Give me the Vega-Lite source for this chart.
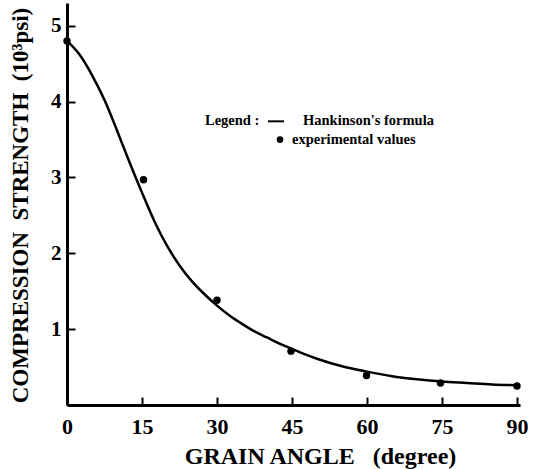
{
  "$schema": "https://vega.github.io/schema/vega-lite/v6.json",
  "width": 453,
  "height": 402,
  "autosize": {"type": "none"},
  "padding": {"left": 67, "top": 3, "right": 13, "bottom": 64},
  "background": "white",
  "config": {
    "view": {"stroke": null},
    "font": "Liberation Serif",
    "axis": {"grid": false}
  },
  "datasets": {
    "curve": [
      {"angle": 0, "strength": 4.80},
      {"angle": 2.5, "strength": 4.62},
      {"angle": 5, "strength": 4.35},
      {"angle": 7.5, "strength": 4.02},
      {"angle": 10, "strength": 3.62},
      {"angle": 12.5, "strength": 3.20},
      {"angle": 15, "strength": 2.80},
      {"angle": 17.5, "strength": 2.42},
      {"angle": 20, "strength": 2.10},
      {"angle": 22.5, "strength": 1.84},
      {"angle": 25, "strength": 1.63},
      {"angle": 27.5, "strength": 1.46},
      {"angle": 30, "strength": 1.31},
      {"angle": 32.5, "strength": 1.18},
      {"angle": 35, "strength": 1.07},
      {"angle": 37.5, "strength": 0.97},
      {"angle": 40, "strength": 0.89},
      {"angle": 42.5, "strength": 0.81},
      {"angle": 45, "strength": 0.74},
      {"angle": 47.5, "strength": 0.67},
      {"angle": 50, "strength": 0.61},
      {"angle": 55, "strength": 0.51},
      {"angle": 60, "strength": 0.44},
      {"angle": 65, "strength": 0.38},
      {"angle": 70, "strength": 0.34},
      {"angle": 75, "strength": 0.31},
      {"angle": 80, "strength": 0.29},
      {"angle": 85, "strength": 0.27},
      {"angle": 90, "strength": 0.26}
    ],
    "points": [
      {"angle": 0, "strength": 4.80},
      {"angle": 15.3, "strength": 2.97},
      {"angle": 30, "strength": 1.38},
      {"angle": 44.8, "strength": 0.71},
      {"angle": 59.9, "strength": 0.39},
      {"angle": 74.7, "strength": 0.29},
      {"angle": 90, "strength": 0.25}
    ],
    "legendText": [
      {"x": 27.6, "y": 3.74, "label": "Legend :"},
      {"x": 47.2, "y": 3.74, "label": "Hankinson's formula"},
      {"x": 45, "y": 3.5, "label": "experimental values"}
    ],
    "legendLine": [
      {"x": 40.2, "x2": 43.4, "y": 3.74}
    ],
    "legendDot": [
      {"x": 42.6, "y": 3.5}
    ]
  },
  "layer": [
    {
      "data": {"name": "curve"},
      "mark": {"type": "line", "color": "black", "strokeWidth": 2.5, "interpolate": "monotone", "clip": false},
      "encoding": {
        "x": {
          "field": "angle", "type": "quantitative",
          "scale": {"domain": [0, 90.6], "nice": false, "zero": false},
          "axis": {
            "values": [0, 15, 30, 45, 60, 75, 90],
            "format": "d",
            "title": "GRAIN ANGLE\u00a0\u00a0\u00a0(degree)",
            "titleFont": "Liberation Serif", "titleFontSize": 24, "titleFontWeight": "bold", "titleColor": "black",
            "titleX": 253, "titleY": 51, "titleAlign": "center", "titleBaseline": "middle", "titleAnchor": null,
            "labelFont": "Liberation Serif", "labelFontSize": 22, "labelFontWeight": "bold", "labelColor": "black", "labelFlush": false,
            "labelPadding": 19,
            "domainColor": "black", "domainWidth": 3,
            "tickColor": "black", "tickWidth": 2, "tickSize": -8
          }
        },
        "y": {
          "field": "strength", "type": "quantitative",
          "scale": {"domain": [0, 5.3], "nice": false},
          "axis": {
            "values": [1, 2, 3, 4, 5],
            "format": "d",
            "title": "COMPRESSION\u00a0\u00a0STRENGTH\u00a0\u00a0(10³psi)",
            "titleFont": "Liberation Serif", "titleFontSize": 23, "titleFontWeight": "bold", "titleColor": "black",
            "titleX": -47, "titleY": 202, "titleAlign": "center", "titleBaseline": "middle", "titleAngle": -90, "titleAnchor": null,
            "labelFont": "Liberation Serif", "labelFontSize": 21, "labelFontWeight": "bold", "labelColor": "black",
            "labelPadding": 14,
            "domainColor": "black", "domainWidth": 3,
            "tickColor": "black", "tickWidth": 2, "tickSize": -8
          }
        }
      }
    },
    {
      "data": {"name": "points"},
      "mark": {"type": "point", "filled": true, "color": "black", "size": 55, "opacity": 1, "clip": false},
      "encoding": {
        "x": {"field": "angle", "type": "quantitative"},
        "y": {"field": "strength", "type": "quantitative"}
      }
    },
    {
      "data": {"name": "legendText"},
      "mark": {"type": "text", "align": "left", "baseline": "middle", "font": "Liberation Serif", "fontSize": 14.5, "fontWeight": "bold", "color": "black"},
      "encoding": {
        "x": {"field": "x", "type": "quantitative"},
        "y": {"field": "y", "type": "quantitative"},
        "text": {"field": "label"}
      }
    },
    {
      "data": {"name": "legendLine"},
      "mark": {"type": "rule", "color": "black", "strokeWidth": 2},
      "encoding": {
        "x": {"field": "x", "type": "quantitative"},
        "x2": {"field": "x2"},
        "y": {"field": "y", "type": "quantitative"}
      }
    },
    {
      "data": {"name": "legendDot"},
      "mark": {"type": "point", "filled": true, "color": "black", "size": 45, "opacity": 1},
      "encoding": {
        "x": {"field": "x", "type": "quantitative"},
        "y": {"field": "y", "type": "quantitative"}
      }
    }
  ]
}
